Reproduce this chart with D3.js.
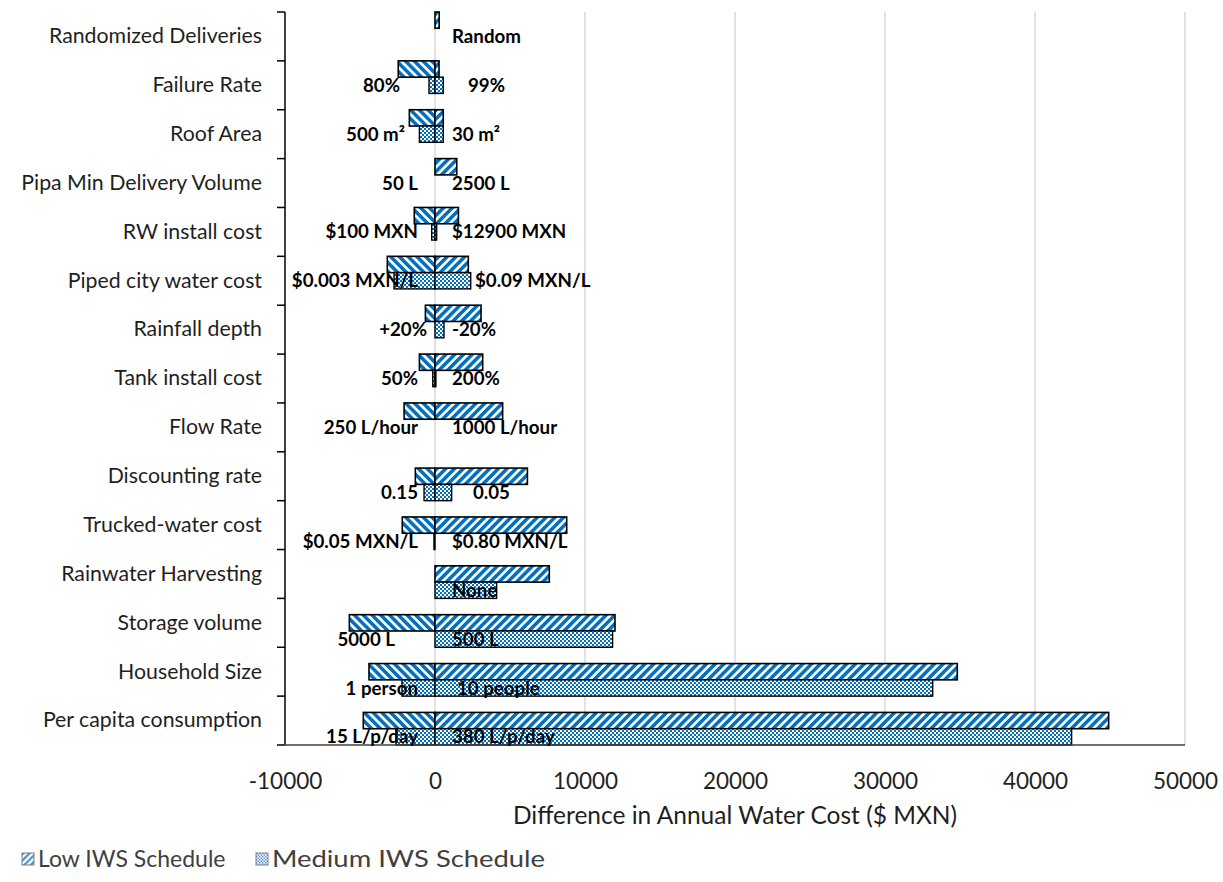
<!DOCTYPE html>
<html>
<head>
<meta charset="utf-8">
<script src="https://cdn.jsdelivr.net/npm/d3@7"></script>
<style>
  body { margin: 0; background: #fff; }
  svg { display: block; }
</style>
</head>
<body>
<svg id="chart" width="1223" height="882"></svg>
<script>
// Parameters tested in the sensitivity analysis (top to bottom)
const categories = [
  "Randomized Deliveries", "Failure Rate", "Roof Area", "Pipa Min Delivery Volume",
  "RW install cost", "Piped city water cost", "Rainfall depth", "Tank install cost",
  "Flow Rate", "Discounting rate", "Trucked-water cost", "Rainwater Harvesting",
  "Storage volume", "Household Size", "Per capita consumption"
];

// Change in annual water cost ($ MXN) relative to the base case
const lowLeft   = [0, -2450, -1710, 0, -1380, -3180, -640, -1040, -2060, -1310, -2180, 0, -5710, -4400, -4780];
const lowRight  = [280, 270, 550, 1450, 1560, 2220, 3070, 3180, 4510, 6160, 8780, 7620, 12000, 34820, 44910];
const medLeft   = [0, -400, -1040, 0, -220, -2730, 0, -150, 0, -730, -70, 0, 0, -2200, -2600];
const medRight  = [0, 550, 550, 0, 110, 2380, 600, 60, 0, 1110, 0, 4110, 11840, 33180, 42440];

// Parameter values that produce each end of the bars
const leftLabels  = ["", "80%", "500 m²", "50 L", "$100 MXN", "$0.003 MXN/L", "+20%", "50%",
                     "250 L/hour", "0.15", "$0.05 MXN/L", "", "5000 L", "1 person", "15 L/p/day"];
const rightLabels = ["Random", "99%", "30 m²", "2500 L", "$12900 MXN", "$0.09 MXN/L", "-20%", "200%",
                     "1000 L/hour", "0.05", "$0.80 MXN/L", "None", "500 L", "10 people", "380 L/p/day"];

const xTicks = [-10000, 0, 10000, 20000, 30000, 40000, 50000];
const seriesNames = ["Low IWS Schedule", "Medium IWS Schedule"];

// ---- layout -------------------------------------------------------------
const FONT = "Lato, 'Open Sans', sans-serif";
const BLUE = "#0070C0";
const svg = d3.select("#chart");

const x = d3.scaleLinear().domain([-10000, 50000]).range([285, 1185]);
const y = d3.scaleBand().domain(categories).range([12, 745]).padding(0);
const slot = d3.scaleBand().domain([0, 1, 2]).range([0, y.bandwidth()]).padding(0);

// Rows from "Discounting rate" down sit in the lower two slots of their band
const lowerRows = new Set(categories.slice(categories.indexOf("Discounting rate")));
const slotsFor = c => lowerRows.has(c) ? { low: 1, med: 2 } : { low: 0, med: 1 };

// Small manual shifts for a few data labels (px)
const labelShift = {
  "80%": -18, "500 m²": -13, "5000 L": -23, "+20%": 9,
  "99%": 16, "0.05": 21, "$0.09 MXN/L": 23, "10 people": 5
};

// ---- fill patterns ------------------------------------------------------
const defs = svg.append("defs");
function stripes(id, angle, color, period, band) {
  const p = defs.append("pattern").attr("id", id)
    .attr("patternUnits", "userSpaceOnUse")
    .attr("width", period).attr("height", 20)
    .attr("patternTransform", `rotate(${angle})`);
  p.append("rect").attr("width", period).attr("height", 20).attr("fill", "#fff");
  p.append("rect").attr("width", band).attr("height", 20).attr("fill", color);
}
stripes("lowR", 45, BLUE, 6.2, 3.5);
stripes("lowL", -45, BLUE, 6.2, 3.5);
stripes("legLow", 45, "#4a8fd6", 4.5, 2.2);

function checker(id, color, cell) {
  const p = defs.append("pattern").attr("id", id)
    .attr("patternUnits", "userSpaceOnUse")
    .attr("width", cell * 2).attr("height", cell * 2);
  p.append("rect").attr("width", cell * 2).attr("height", cell * 2).attr("fill", "#fff");
  p.append("rect").attr("width", cell).attr("height", cell).attr("fill", color);
  p.append("rect").attr("x", cell).attr("y", cell).attr("width", cell).attr("height", cell).attr("fill", color);
}
checker("med", BLUE, 2);
checker("legMed", "#5a9be0", 1.5);

// ---- gridlines ----------------------------------------------------------
svg.append("g").selectAll("line").data(xTicks.filter(t => t !== -10000)).join("line")
  .attr("x1", d => x(d)).attr("x2", d => x(d))
  .attr("y1", y.range()[0]).attr("y2", y.range()[1])
  .attr("stroke", "#d9d9d9").attr("stroke-width", 1.5);

// ---- bars ---------------------------------------------------------------
const parts = [];
categories.forEach((c, i) => {
  const s = slotsFor(c);
  parts.push({ c, v: lowLeft[i],  slot: s.low, fill: "url(#lowL)", sw: 1.6 });
  parts.push({ c, v: lowRight[i], slot: s.low, fill: "url(#lowR)", sw: 1.6 });
  parts.push({ c, v: medLeft[i],  slot: s.med, fill: "url(#med)",  sw: 1.4 });
  parts.push({ c, v: medRight[i], slot: s.med, fill: "url(#med)",  sw: 1.4 });
});

svg.append("g").selectAll("rect").data(parts).join("rect")
  .attr("x", d => Math.min(x(0), x(d.v)))
  .attr("width", d => Math.abs(x(d.v) - x(0)))
  .attr("y", d => y(d.c) + slot(d.slot))
  .attr("height", slot.bandwidth())
  .attr("fill", d => d.fill)
  .attr("stroke", "#000")
  .attr("stroke-width", d => d.sw);

// ---- axes ---------------------------------------------------------------
// vertical category axis with tick marks between categories
const yAxisG = svg.append("g").attr("transform", `translate(${x(-10000)},0)`)
  .call(d3.axisLeft(y).tickSize(0).tickPadding(23));
yAxisG.select(".domain").remove();
yAxisG.selectAll("text")
  .attr("font-family", FONT).attr("font-size", 21.3).attr("fill", "#1f1f1f");

const bounds = categories.map(c => y(c)).concat([y.range()[1]]);
svg.append("g").selectAll("line").data(bounds).join("line")
  .attr("x1", x(-10000) - 8).attr("x2", x(-10000))
  .attr("y1", d => d).attr("y2", d => d)
  .attr("stroke", "#000").attr("stroke-width", 1.5);
svg.append("line")
  .attr("x1", x(-10000)).attr("x2", x(-10000))
  .attr("y1", y.range()[0]).attr("y2", y.range()[1])
  .attr("stroke", "#000").attr("stroke-width", 1.5);

// horizontal value axis
const xAxisG = svg.append("g").attr("transform", `translate(0,${y.range()[1]})`)
  .call(d3.axisBottom(x).tickValues(xTicks).tickSize(0).tickPadding(33).tickFormat(d => String(d)));
xAxisG.select(".domain").remove();
xAxisG.selectAll("text")
  .attr("font-family", FONT).attr("font-size", 22.5).attr("fill", "#1f1f1f")
  .attr("dy", "0.5em");
svg.append("line")
  .attr("x1", x(-10000) - 7).attr("x2", x(50000))
  .attr("y1", y.range()[1]).attr("y2", y.range()[1])
  .attr("stroke", "#404040").attr("stroke-width", 1.3);

svg.append("text")
  .attr("x", (x.range()[0] + x.range()[1]) / 2).attr("y", 815)
  .attr("dy", "0.36em")
  .attr("text-anchor", "middle")
  .attr("font-family", FONT).attr("font-size", 24.5).attr("fill", "#1f1f1f")
  .text("Difference in Annual Water Cost ($ MXN)");

// ---- data labels ---------------------------------------------------------
const labelG = svg.append("g")
  .attr("font-family", FONT).attr("font-size", 18.7).attr("font-weight", "bold").attr("fill", "#000");
const labelY = c => y(c) + slot(slotsFor(c).med) + slot.bandwidth() / 2;

labelG.selectAll("text.l").data(categories.filter((c, i) => leftLabels[i])).join("text")
  .attr("class", "l")
  .attr("x", c => x(0) - 17 + (labelShift[leftLabels[categories.indexOf(c)]] || 0))
  .attr("y", labelY).attr("dy", "0.35em").attr("text-anchor", "end")
  .text(c => leftLabels[categories.indexOf(c)]);

labelG.selectAll("text.r").data(categories.filter((c, i) => rightLabels[i])).join("text")
  .attr("class", "r")
  .attr("x", c => x(0) + 17 + (labelShift[rightLabels[categories.indexOf(c)]] || 0))
  .attr("y", labelY).attr("dy", "0.35em").attr("text-anchor", "start")
  .text(c => rightLabels[categories.indexOf(c)]);

// ---- legend -------------------------------------------------------------
const legend = svg.append("g").attr("font-family", FONT).attr("font-size", 23).attr("fill", "#404040");
const legendItems = [
  { name: seriesNames[0], fill: "url(#legLow)", x: 22, len: null },
  { name: seriesNames[1], fill: "url(#legMed)", x: 256, len: 273 }
];
const li = legend.selectAll("g").data(legendItems).join("g")
  .attr("transform", d => `translate(${d.x},853)`);
li.append("rect").attr("width", 12).attr("height", 12)
  .attr("fill", d => d.fill).attr("stroke", "#7f7f7f").attr("stroke-width", 1);
li.append("text").attr("x", 16).attr("y", 6).attr("dy", "0.36em")
  .each(function (d) {
    if (d.len) d3.select(this).attr("textLength", d.len).attr("lengthAdjust", "spacingAndGlyphs");
  })
  .text(d => d.name);
</script>
</body>
</html>
